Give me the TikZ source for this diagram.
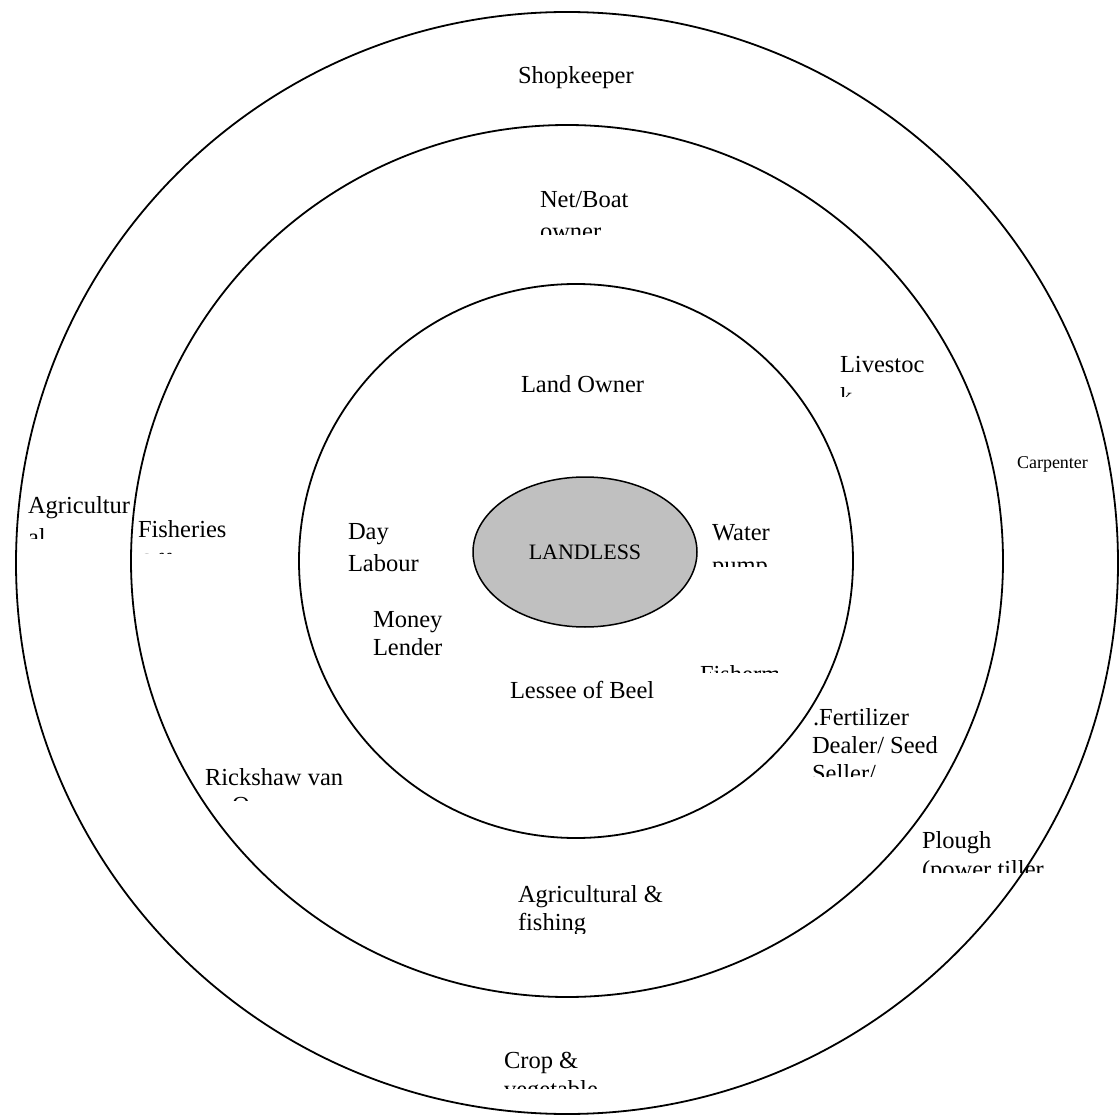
\documentclass[tikz,border=0pt]{standalone}
\usepackage{fontspec}
\setmainfont{Liberation Serif}
\usetikzlibrary{shapes.geometric}
\definecolor{coregray}{RGB}{192,192,192}
\begin{document}
\begin{tikzpicture}[x=1pt,y=-1pt,
  ring/.style={draw=black,line width=1.8pt},
  lbl/.style={anchor=base west,inner sep=0pt,outer sep=0pt,font=\fontsize{24.5}{28}\selectfont},
  smalllbl/.style={anchor=base west,inner sep=0pt,outer sep=0pt,font=\fontsize{18}{20}\selectfont}]
\useasboundingbox (0,0) rectangle (1120,1115);
\fill[white] (0,0) rectangle (1120,1115);

% rings
\begin{scope}
  \clip (0,0) rectangle (1120,1115);
  \draw[ring] (567,563) circle[radius=551];
\end{scope}
\draw[ring] (567,561) circle[radius=436];
\draw[ring] (576,561) circle[radius=277];

% core
\node[ellipse,draw=black,line width=1.5pt,fill=coregray,minimum width=224pt,minimum height=150pt,
      inner sep=0pt,font=\fontsize{22}{24}\selectfont] (landless) at (585,552) {LANDLESS};

% outer ring labels
\node[lbl] (shop) at (518,84) {Shopkeeper};
\node[smalllbl] (carp) at (1017,468) {Carpenter};
\node[lbl] (agri1) at (28,513) {Agricultur};
\begin{scope}
  \clip (20,520) rectangle (130,538);
  \node[lbl] (agri2) at (28,545) {al};
\end{scope}
\node[lbl] (plough1) at (922,848) {Plough};
\begin{scope}
  \clip (915,855) rectangle (1043,872);
  \node[lbl] (plough2) at (922,877) {(power tiller};
\end{scope}
\node[lbl] (crop1) at (504,1068) {Crop \&};
\begin{scope}
  \clip (495,1075) rectangle (620,1088);
  \node[lbl] (crop2) at (504,1097) {vegetable};
\end{scope}

% middle ring labels
\node[lbl] (net1) at (540,208) {Net/Boat};
\begin{scope}
  \clip (530,215) rectangle (640,235);
  \node[lbl] (net2) at (540,240) {owner};
\end{scope}
\node[lbl] (live1) at (840,373) {Livestoc};
\begin{scope}
  \clip (830,380) rectangle (930,397);
  \node[lbl] (live2) at (840,405) {k};
\end{scope}
\node[lbl] (fish1) at (138,537) {Fisheries};
\begin{scope}
  \clip (130,544) rectangle (230,553);
  \node[lbl] (fish2) at (138,570) {Off};
\end{scope}
\node[lbl] (fert1) at (813,725) {.Fertilizer};
\node[lbl] (fert2) at (812,753) {Dealer/ Seed};
\begin{scope}
  \clip (805,760) rectangle (945,776);
  \node[lbl] (fert3) at (812,781) {Seller/};
\end{scope}
\node[lbl] (rick1) at (205,785) {Rickshaw van};
\begin{scope}
  \clip (225,790) rectangle (260,800);
  \node[lbl] (rick2) at (232,813) {O};
\end{scope}
\node[lbl] (agfish1) at (518,902) {Agricultural \&};
\begin{scope}
  \clip (510,905) rectangle (600,933);
  \node[lbl] (agfish2) at (518,930) {fishing};
\end{scope}

% inner ring labels
\node[lbl] (land) at (521,393) {Land Owner};
\node[lbl] (day1) at (348,539) {Day};
\node[lbl] (day2) at (348,571) {Labour};
\node[lbl] (water1) at (712,540) {Water};
\begin{scope}
  \clip (705,559) rectangle (780,566);
  \node[lbl] (water2) at (712,573) {pump};
\end{scope}
\node[lbl] (money1) at (373,627) {Money};
\node[lbl] (money2) at (373,655) {Lender};
\begin{scope}
  \clip (695,660) rectangle (777,672);
  \node[lbl] (fisherm) at (700,682) {Fisherman};
\end{scope}
\node[lbl] (lessee) at (510,698) {Lessee of Beel};
\end{tikzpicture}
\end{document}
